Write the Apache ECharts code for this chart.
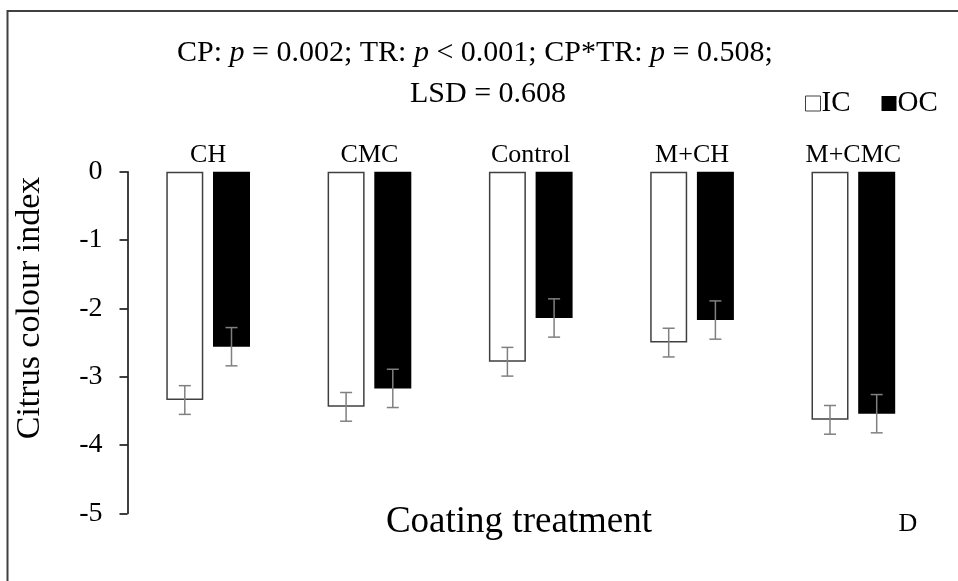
<!DOCTYPE html>
<html>
<head>
<meta charset="utf-8">
<script src="https://cdn.jsdelivr.net/npm/echarts@6/dist/echarts.min.js"></script>
<style>html,body{margin:0;padding:0;background:#fff}#c{width:958px;height:581px}</style>
</head>
<body>
<div id="c"></div>
<script>
var categories = ['CH', 'CMC', 'Control', 'M+CH', 'M+CMC'];
var icValues = [-3.34, -3.44, -2.78, -2.50, -3.63];
var ocValues = [-2.56, -3.17, -2.14, -2.17, -3.54];
var icErrors = [0.21, 0.21, 0.21, 0.21, 0.21];
var ocErrors = [0.28, 0.28, 0.28, 0.28, 0.28];
var yTicks = [-5, -4, -3, -2, -1, 0];

var FONT = '"Liberation Serif", "Times New Roman", serif';
var BAR_W = 37;
var GAP = 9.7;
var OFF = (BAR_W + GAP) / 2;

function errData(vals, errs) {
  return vals.map(function (v, i) { return [i, v, errs[i]]; });
}
function errRender(sign) {
  return function (params, api) {
    var i = api.value(0), v = api.value(1), e = api.value(2);
    var top = api.coord([i, v + e]);
    var bot = api.coord([i, v - e]);
    var x = top[0] + sign * OFF;
    var cw = 6;
    var st = { stroke: '#808080', lineWidth: 1.5 };
    return {
      type: 'group',
      children: [
        { type: 'line', shape: { x1: x, y1: top[1], x2: x, y2: bot[1] }, style: st },
        { type: 'line', shape: { x1: x - cw, y1: top[1], x2: x + cw, y2: top[1] }, style: st },
        { type: 'line', shape: { x1: x - cw, y1: bot[1], x2: x + cw, y2: bot[1] }, style: st }
      ]
    };
  };
}

var chart = echarts.init(document.getElementById('c'), null, { renderer: 'canvas' });
chart.setOption({
  backgroundColor: '#fff',
  animation: false,
  textStyle: { fontFamily: FONT, color: '#000' },
  title: [
    {
      left: 172, top: 32,
      text: '{n|CP: }{i|p}{n| = 0.002; TR: }{i|p}{n| < 0.001; CP*TR: }{i|p}{n| = 0.508;}',
      textStyle: {
        fontWeight: 'normal',
        rich: {
          n: { fontFamily: FONT, fontSize: 30, fontWeight: 'normal', color: '#000', lineHeight: 32 },
          i: { fontFamily: FONT, fontSize: 30, fontWeight: 'normal', fontStyle: 'italic', color: '#000', lineHeight: 32 }
        }
      }
    },
    {
      left: 405, top: 73,
      text: 'LSD = 0.608',
      textStyle: { fontFamily: FONT, fontSize: 30, fontWeight: 'normal', color: '#000', lineHeight: 32 }
    }
  ],
  legend: {
    left: 800, top: 84,
    itemWidth: 15, itemHeight: 15, itemGap: 31,
    icon: 'rect',
    textStyle: { fontFamily: FONT, fontSize: 29, color: '#000', padding: [0, 0, 0, -4] },
    data: [
      { name: 'IC', itemStyle: { color: '#fff', borderColor: '#404040', borderWidth: 1 } },
      { name: 'OC', itemStyle: { color: '#000' } }
    ]
  },
  grid: { left: 127.5, right: 24, top: 171.7, bottom: 67.5, containLabel: false, outerBoundsMode: 'none' },
  xAxis: {
    type: 'category',
    data: categories,
    position: 'top',
    axisLine: { show: false },
    axisTick: { show: false },
    axisLabel: { fontFamily: FONT, fontSize: 26, color: '#000', margin: 4 }
  },
  yAxis: {
    type: 'value',
    min: yTicks[0], max: yTicks[yTicks.length - 1], interval: 1,
    splitLine: { show: false },
    axisLine: { show: true, lineStyle: { color: '#000', width: 1.5 } },
    axisTick: { show: true, inside: false, length: 8, lineStyle: { color: '#000', width: 1.5 } },
    axisLabel: { fontFamily: FONT, fontSize: 28, color: '#000', margin: 25 }
  },
  series: [
    {
      name: 'IC', type: 'bar', data: icValues, barWidth: BAR_W, barGap: (GAP / BAR_W * 100) + '%',
      itemStyle: { color: '#fff', borderColor: '#404040', borderWidth: 1.5 }
    },
    {
      name: 'OC', type: 'bar', data: ocValues, barWidth: BAR_W,
      itemStyle: { color: '#000' }
    },
    { type: 'custom', renderItem: errRender(-1), data: errData(icValues, icErrors), z: 5 },
    { type: 'custom', renderItem: errRender(1), data: errData(ocValues, ocErrors), z: 5 }
  ],
  graphic: [
    { type: 'polyline', shape: { points: [[7.5, 581], [7.5, 11], [958, 11]] }, style: { stroke: '#404040', lineWidth: 2, fill: null }, z: 10 },
    { type: 'text', x: 30, y: 308, rotation: Math.PI / 2, style: { text: 'Citrus colour index', font: '34px ' + FONT, fill: '#000', align: 'center', verticalAlign: 'middle' } },
    { type: 'text', x: 519, y: 522, style: { text: 'Coating treatment', font: '37px ' + FONT, fill: '#000', align: 'center', verticalAlign: 'middle' } },
    { type: 'text', x: 908, y: 524, style: { text: 'D', font: '26px ' + FONT, fill: '#000', align: 'center', verticalAlign: 'middle' } }
  ]
});
</script>
</body>
</html>
